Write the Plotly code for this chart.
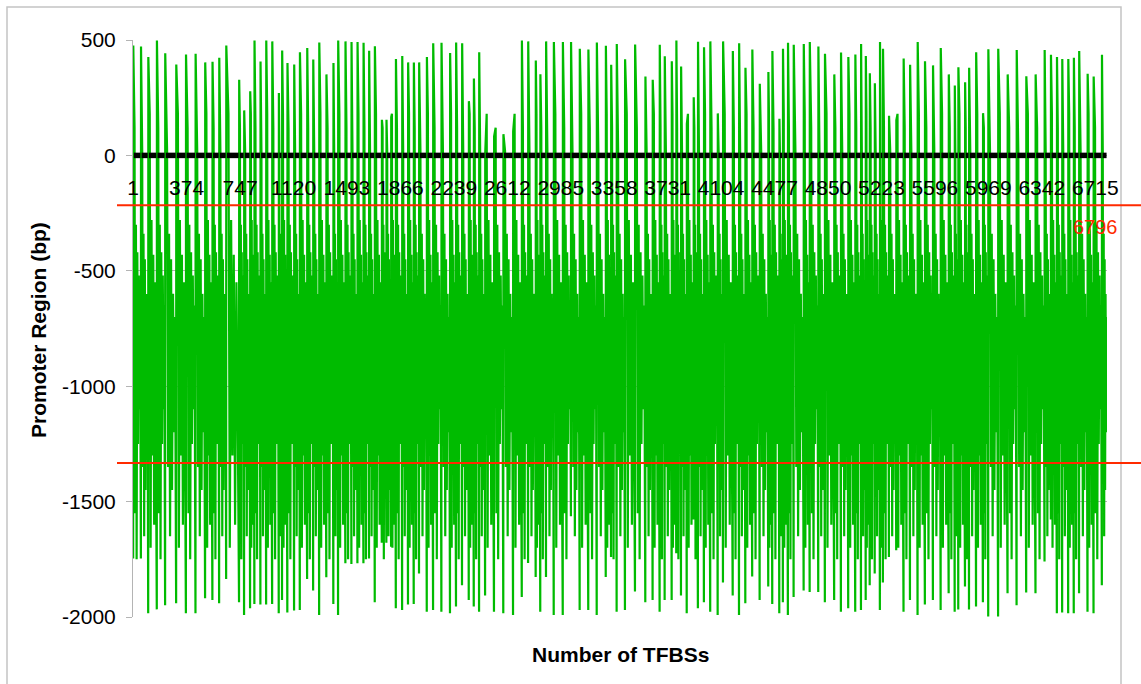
import numpy as np
import plotly.graph_objects as go

# ---- data ----
# start index (TFBS number) of each gene block
cycle_start = [1, 55, 106, 166, 224, 301, 369, 436, 503, 554,
               601, 650, 740, 775, 817, 847, 889, 929, 971, 1017,
               1040, 1077, 1124, 1164, 1215, 1257, 1299, 1349, 1398, 1431,
               1482, 1524, 1566, 1608, 1647, 1687, 1736, 1768, 1801, 1834,
               1878, 1919, 1959, 1996, 2050, 2094, 2152, 2212, 2254, 2296,
               2343, 2378, 2415, 2457, 2519, 2584, 2652, 2713, 2757, 2810,
               2842, 2882, 2936, 2999, 3056, 3117, 3177, 3236, 3299, 3336,
               3375, 3433, 3503, 3575, 3626, 3675, 3710, 3759, 3791, 3824,
               3864, 3912, 3942, 3984, 4028, 4080, 4117, 4185, 4229, 4273,
               4321, 4373, 4433, 4461, 4510, 4535, 4570, 4610, 4680, 4722,
               4782, 4828, 4893, 4940, 4991, 5040, 5080, 5113, 5141, 5176,
               5212, 5233, 5275, 5326, 5377, 5422, 5475, 5526, 5582, 5636,
               5692, 5734, 5759, 5806, 5834, 5883, 5931, 5968, 6037, 6103,
               6166, 6233, 6298, 6361, 6405, 6447, 6484, 6526, 6565, 6602,
               6661, 6703, 6761]
# most downstream site of each block (bp)
cycle_top = [476, 472, 426, 498, 443, 394, 437, 440, 403, 406,
             423, 476, 328, 195, 278, 498, 407, 498, 494, 270,
             455, 400, 394, 447, 465, 416, 489, 351, 400, 498,
             494, 491, 491, 488, 453, 473, 154, 154, 166, 418,
             431, 403, 403, 403, 426, 486, 488, 444, 489, 486,
             235, 333, 447, 10, 82, 92, 104, 498, 494, 411,
             352, 494, 491, 491, 491, 462, 459, 489, 475, 393,
             483, 417, 480, 342, 328, 479, 430, 408, 498, 385,
             137, 252, 492, 469, 494, 182, 494, 452, 486, 380,
             459, 310, 361, 452, 159, 462, 488, 479, 483, 491,
             472, 440, 351, 446, 426, 437, 483, 431, 356, 313,
             491, 462, 172, 153, 420, 393, 491, 408, 390, 465,
             351, 303, 382, 317, 380, 447, 183, 460, 462, 351,
             457, 343, 351, 457, 436, 426, 418, 418, 423, 452,
             354, 342, 436]
# most upstream site of each block (bp)
cycle_bottom = [-1746, -1746, -1984, -1967, -1949, -1940, -1984, -1984, -1919, -1926,
                -1940, -1835, -1936, -1991, -1962, -1944, -1946, -1946, -1944, -1984,
                -1926, -1981, -1972, -1970, -1835, -1885, -1991, -1828, -1944, -1991,
                -1767, -1770, -1767, -1767, -1746, -1936, -1678, -1678, -1696, -1962,
                -1970, -1946, -1944, -1811, -1977, -1970, -1977, -1984, -1955, -1862,
                -1926, -1955, -1977, -1907, -1977, -1984, -1991, -1913, -1766, -1827,
                -1977, -1827, -1991, -1991, -1563, -1970, -1970, -1991, -1827, -1740,
                -1977, -1970, -1890, -1936, -1926, -1977, -1926, -1926, -1724, -1907,
                -1984, -1578, -1962, -1936, -1977, -1991, -1851, -1907, -1991, -1940,
                -1825, -1926, -1868, -1944, -1984, -1936, -1991, -1913, -1885, -1892,
                -1892, -1936, -1926, -1977, -1962, -1977, -1970, -1926, -1862, -1811,
                -1970, -1850, -1740, -1711, -1977, -1926, -1991, -1946, -1926, -1970,
                -1897, -1977, -1967, -1868, -1967, -1955, -1936, -1998, -1998, -1897,
                -1949, -1894, -1897, -1760, -1578, -1984, -1981, -1984, -1984, -1897,
                -1977, -1984, -1862]
# typical interior sites of a block (bp), three variants
inner_a = [120, -1550, -300, -1750, -420, -1250, -520, -1100, -650]
inner_b = [20, -1350, -340, -1650, -450, -1450, -600, -1200, -700]
inner_c = [180, -1700, -280, -1300, -430, -1600, -550, -1150]
total_sites = 6796
tick_labels = [1, 374, 747, 1120, 1493, 1866, 2239, 2612, 2985, 3358, 3731,
               4104, 4477, 4850, 5223, 5596, 5969, 6342, 6715]
cutoff_upper = -216
cutoff_lower = -1333
y_ticks = [500, 0, -500, -1000, -1500, -2000]

# ---- build series ----
inners = [inner_a, inner_b, inner_c]
ends = cycle_start[1:] + [total_sites + 1]
gx, gy = [], []
zx, zy = [], []
for i, (s, e, t, b) in enumerate(zip(cycle_start, ends, cycle_top, cycle_bottom)):
    inner = inners[i % 3]
    gx += [s, s + 1]
    gy += [b, t]
    span = e - s
    xs = s + np.linspace(0.18, 0.9, len(inner)) * span
    gx += list(xs)
    gy += inner
    zx += [s + 5, e - 3, None]
    zy += [0, 0, None]

fig = go.Figure()
fig.add_trace(go.Scatter(x=gx, y=gy, mode="lines",
                         line=dict(color="#00bb00", width=2.2),
                         hoverinfo="skip", showlegend=False))
fig.add_trace(go.Scatter(x=zx, y=zy, mode="lines",
                         line=dict(color="black", width=5.5),
                         hoverinfo="skip", showlegend=False))

font_family = "Arial, Liberation Sans, sans-serif"
L, R, T, B = 133, 34, 40, 67
W, H = 1141, 684
pw, ph = W - L - R, H - T - B

def px_x(px):
    return (px - L) / pw

def px_y(py):
    return (H - B - py) / ph

zero_pos = (500 - 0) / 2500
fig.update_layout(
    width=W, height=H, autosize=False,
    margin=dict(l=L, r=R, t=T, b=B),
    paper_bgcolor="white", plot_bgcolor="white",
    font=dict(family=font_family, color="black"),
    xaxis=dict(range=[0, total_sites + 1], tickmode="array",
               tickvals=tick_labels, ticktext=[str(v) for v in tick_labels],
               tickfont=dict(size=21, family=font_family, color="black"),
               showgrid=False, zeroline=False, showline=False, ticks="",
               anchor="free", position=1 - zero_pos, ticklabelstandoff=18),
    yaxis=dict(range=[-2000, 500], tickmode="array", tickvals=y_ticks,
               ticktext=[str(v) for v in y_ticks],
               tickfont=dict(size=21, family=font_family, color="black"),
               showgrid=True, gridcolor="#b4b4b4", gridwidth=1,
               zeroline=False, showline=True, linecolor="#b4b4b4", linewidth=1,
               ticks="outside", ticklen=6, tickcolor="#b4b4b4",
               ticklabelstandoff=6),
)

for yv in [cutoff_upper, cutoff_lower]:
    fig.add_shape(type="line", xref="paper", yref="y",
                  x0=px_x(117), x1=px_x(1141), y0=yv, y1=yv,
                  line=dict(color="#ff2a00", width=2))

fig.add_shape(type="rect", xref="paper", yref="paper",
              x0=px_x(7), x1=px_x(1121), y0=px_y(700), y1=px_y(7),
              line=dict(color="#c4c4c4", width=1.5), fillcolor="rgba(0,0,0,0)",
              layer="below")

fig.add_annotation(text=str(total_sites), xref="paper", yref="paper",
                   x=px_x(1095), y=px_y(227), xanchor="center", yanchor="middle",
                   showarrow=False,
                   font=dict(size=20, color="#ff2a00", family=font_family))
fig.add_annotation(text="<b>Promoter Region (bp)</b>", xref="paper", yref="paper",
                   x=px_x(38), y=px_y(330), xanchor="center", yanchor="middle",
                   showarrow=False, textangle=-90,
                   font=dict(size=21, color="black", family=font_family))
fig.add_annotation(text="<b>Number of TFBSs</b>", xref="paper", yref="paper",
                   x=px_x(620), y=px_y(654), xanchor="center", yanchor="middle",
                   showarrow=False,
                   font=dict(size=21, color="black", family=font_family))

fig.write_html("out.html", config={"displayModeBar": False},
               post_script="document.body.style.margin='0';")
